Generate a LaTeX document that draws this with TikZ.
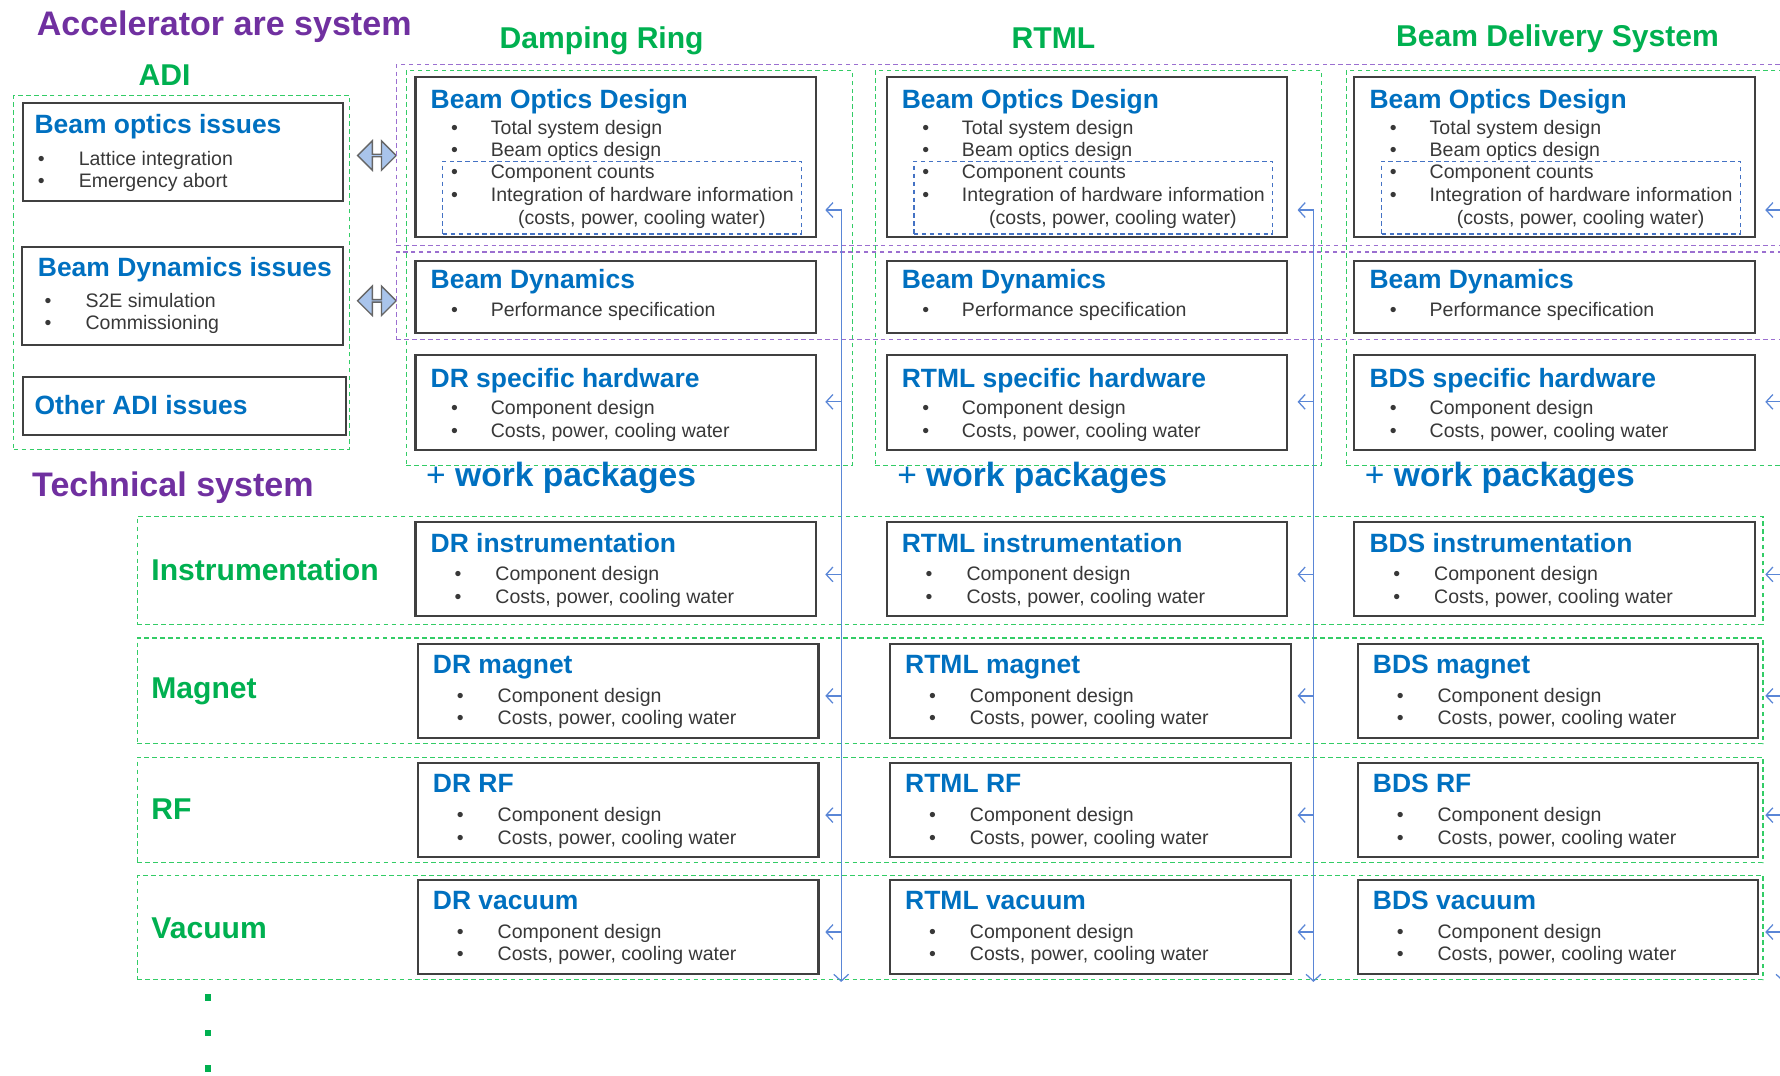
\documentclass[tikz,border=0pt]{standalone}
\usepackage{fontspec}
\setmainfont{Liberation Sans}
\usetikzlibrary{arrows.meta,fit,shapes.arrows}
\definecolor{tgreen}{HTML}{00B050}
\definecolor{tblue}{HTML}{0070C0}
\definecolor{tpurple}{HTML}{7030A0}
\definecolor{dgreen}{HTML}{33CC66}
\definecolor{dpurple}{HTML}{9B6FD0}
\definecolor{dblue}{HTML}{4472C4}
\definecolor{lblue}{HTML}{5A86D6}
\definecolor{boxline}{HTML}{404040}
\definecolor{bodytxt}{HTML}{383838}
\definecolor{arrfill}{HTML}{A9C4EB}
\tikzset{
 box/.style={draw=boxline, line width=0.9pt, inner sep=0pt},
 grpgreen/.style={draw=dgreen, line width=0.6pt, dash pattern=on 2pt off 1.5pt, inner sep=0pt},
 grppurple/.style={draw=dpurple, line width=0.6pt, dash pattern=on 2pt off 1.5pt, inner sep=0pt},
 grpblue/.style={draw=dblue, line width=0.6pt, dash pattern=on 2pt off 1.5pt, inner sep=0pt},
 ttl/.style={anchor=west, text=tblue, font=\fontsize{11.65}{14}\selectfont\bfseries, inner sep=0pt, text height=0.75em, text depth=0.2em, yshift=-1.5pt},
 bodyt/.style={anchor=west, text=bodytxt, font=\fontsize{8.6}{10}\selectfont, inner sep=0pt, text height=0.75em, text depth=0.2em},
 hgreen/.style={text=tgreen, font=\fontsize{13.25}{15}\selectfont\bfseries, inner sep=0pt, text height=0.75em, text depth=0.2em, yshift=-1.9pt},
 hpurple/.style={anchor=west, text=tpurple, font=\fontsize{15}{18}\selectfont\bfseries, inner sep=0pt, text height=0.75em, text depth=0.2em, yshift=-2pt},
 wp/.style={anchor=west, text=tblue, font=\fontsize{14.8}{18}\selectfont\bfseries, inner sep=0pt, text height=0.75em, text depth=0.2em, yshift=-2.4pt},
 conn/.style={draw=lblue, line width=0.55pt},
 tipL/.tip={Straight Barb[length=3pt,width=6.5pt]},
 dblarrow/.style={double arrow, draw=gray!80!black, fill=arrfill, line width=0.6pt, minimum height=17pt, minimum width=13pt, double arrow head extend=3.25pt, inner sep=0pt},
 dotsq/.style={fill=tgreen, minimum width=2.5pt, minimum height=3pt, inner sep=0pt},
}
\newcommand\bul[5]{%
 \node[bodyt] (#1b) at ({#2},{#4}) {•};
 \node[bodyt] (#1) at ({#3},{#4}) {#5};}
\newcommand\topcol[5]{%
 \node[box, fit={({366+#2},68) ({719+#2},209)}] (#1bod) {};
 \node[grpblue, fit={({390+#2},142) ({706+#2},206)}] (#1cnt) {};
 \node[ttl] (#1bodt) at ({379+#2},87) {Beam Optics Design};
 \bul{#1boda}{397+#2}{432+#2}{113}{Total system design}
 \bul{#1bodb}{397+#2}{432+#2}{132}{Beam optics design}
 \bul{#1bodc}{397+#2}{432+#2}{152}{Component counts}
 \bul{#1bodd}{397+#2}{432+#2}{172}{Integration of hardware information}
 \node[bodyt] (#1bode) at ({456+#2},192) {(costs, power, cooling water)};
 \node[box, fit={({366+#2},230) ({719+#2},293)}] (#1bd) {};
 \node[ttl] (#1bdt) at ({379+#2},246) {Beam Dynamics};
 \bul{#1bda}{397+#2}{432+#2}{273}{Performance specification}
 \node[box, fit={({366+#2},313) ({719+#2},396)}] (#1sh) {};
 \node[ttl] (#1sht) at ({379+#2},333) {#3};
 \bul{#1sha}{397+#2}{432+#2}{360}{Component design}
 \bul{#1shb}{397+#2}{432+#2}{380}{Costs, power, cooling water}
 \node[wp] (#1wp) at ({375+#2},418) {\textmd{+} work packages};
 \coordinate (#1k0) at ({#5},185);
 \coordinate (#1j0) at ({#4},185);
 \coordinate (#1end) at ({#4},865);
 \draw[conn, tipL-tipL] (#1k0) -- (#1j0) -- (#1end);
 \coordinate (#1k1) at ({#5},354);
 \coordinate (#1j1) at ({#4},354);
 \draw[conn, -tipL] (#1j1) -- (#1k1);}
\newcommand\techbox[6]{%
 \node[box, fit={({#2},{#3}) ({#2+353},{#3+83})}] (#1) {};
 \node[ttl] (#1t) at ({#2+13},{#3+18}) {#4};
 \bul{#1a}{#2+34}{#2+70}{#3+46}{Component design}
 \bul{#1c}{#2+34}{#2+70}{#3+66}{Costs, power, cooling water}
 \coordinate (#1j) at ({#5},{#3+46});
 \coordinate (#1k) at ({#6},{#3+46});
 \draw[conn, -tipL] (#1j) -- (#1k);}
\begin{document}
\begin{tikzpicture}[x=0.5pt,y=-0.5pt]
\useasboundingbox (0,0) rectangle (1568,947);
\clip (0,0) rectangle (1568,947);
% headings
\node[hpurple] (hacc) at (32,22) {Accelerator are system};
\node[hgreen] (hdr) at (530,33) {Damping Ring};
\node[hgreen] (hrt) at (928,33) {RTML};
\node[hgreen] (hbd) at (1372,32) {Beam Delivery System};
\node[hgreen] (hadi) at (145,66) {ADI};
\node[hpurple] (htech) at (28,428) {Technical system};
% ADI
\node[grpgreen, fit={(12,84) (308,396)}] (adigrp) {};
\node[box, fit={(20,91) (302,177)}] (boi) {};
\node[ttl] (boit) at (30,109) {Beam optics issues};
\bul{boia}{33}{69}{140}{Lattice integration}
\bul{boib}{33}{69}{160}{Emergency abort}
\node[box, fit={(19,218) (302,304)}] (bdi) {};
\node[ttl] (bdit) at (33,235) {Beam Dynamics issues};
\bul{bdia}{39}{75}{265}{S2E simulation}
\bul{bdib}{39}{75}{285}{Commissioning}
\node[box, fit={(20,332) (305,383)}] (oai) {};
\node[ttl] (oait) at (30,357) {Other ADI issues};
\node[dblarrow] (da1) at (332,137) {};
\node[dblarrow] (da2) at (332,265) {};
% groups
\node[grppurple, fit={(349,57) (1600,216)}] (pur1) {};
\node[grppurple, fit={(349,222) (1600,299)}] (pur2) {};
\node[grpgreen, fit={(358,62) (751,410)}] (gdr) {};
\node[grpgreen, fit={(771,62) (1164,410)}] (grt) {};
\node[grpgreen, fit={(1186,62) (1600,410)}] (gbd) {};
\node[grpgreen, fit={(121,455) (1553,550)}] (rowin) {};
\node[grpgreen, fit={(121,562) (1553,655)}] (rowmg) {};
\node[grpgreen, fit={(121,667) (1553,760)}] (rowrf) {};
\node[grpgreen, fit={(121,771) (1553,863)}] (rowvc) {};
\node[hgreen, anchor=west] (lin) at (133,502) {Instrumentation};
\node[hgreen, anchor=west] (lmg) at (133,606) {Magnet};
\node[hgreen, anchor=west] (lrf) at (133,713) {RF};
\node[hgreen, anchor=west] (lvc) at (133,817) {Vacuum};
% columns
\topcol{dr}{0}{DR specific hardware}{741}{727}
\topcol{rt}{415}{RTML specific hardware}{1157}{1143}
\topcol{bd}{827}{BDS specific hardware}{1571}{1555}
\techbox{drin}{366}{460}{DR instrumentation}{741}{727}
\techbox{drmg}{368}{567}{DR magnet}{741}{727}
\techbox{drrf}{368}{672}{DR RF}{741}{727}
\techbox{drvc}{368}{775}{DR vacuum}{741}{727}
\techbox{rtin}{781}{460}{RTML instrumentation}{1157}{1143}
\techbox{rtmg}{784}{567}{RTML magnet}{1157}{1143}
\techbox{rtrf}{784}{672}{RTML RF}{1157}{1143}
\techbox{rtvc}{784}{775}{RTML vacuum}{1157}{1143}
\techbox{bdin}{1193}{460}{BDS instrumentation}{1571}{1555}
\techbox{bdmg}{1196}{567}{BDS magnet}{1571}{1555}
\techbox{bdrf}{1196}{672}{BDS RF}{1571}{1555}
\techbox{bdvc}{1196}{775}{BDS vacuum}{1571}{1555}
% dots
\node[dotsq] (dt1) at (183,879) {};
\node[dotsq] (dt2) at (183,910) {};
\node[dotsq] (dt3) at (183,941) {};
\end{tikzpicture}
\end{document}
